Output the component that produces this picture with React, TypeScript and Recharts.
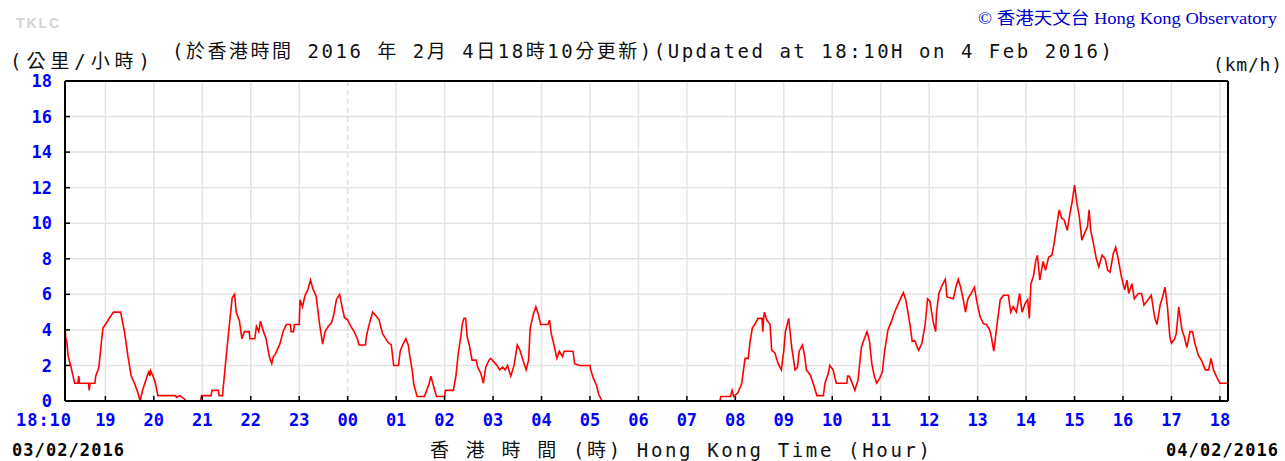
import React from 'react'
import { LineChart, Line, XAxis, YAxis, ReferenceLine } from 'recharts'

// [minutes after 18:00 on 03/02/2016, wind speed km/h]
const evening: [number, number][] = [
  [10, 4.3], [11, 3.5], [12, 3.4], [14, 2.5], [17, 2.0], [20, 1.4], [22, 1.0], [26, 1.0], [27, 1.4], [28, 1.0],
  [39, 1.0], [40, 0.6], [41, 1.0], [47, 1.0], [48, 1.4], [52, 1.9], [55, 3.3], [57, 4.1], [60, 4.3], [64, 4.6],
  [70, 5.0], [79, 5.0], [81, 4.5], [84, 3.8], [88, 2.5], [92, 1.4], [96, 1.0], [100, 0.5], [103, 0], [106, 0.6],
  [111, 1.3], [114, 1.7], [115, 1.4], [116, 1.7], [119, 1.4], [122, 1.0], [125, 0.3], [147, 0.3], [148, 0.2],
  [152, 0.3], [158, 0.1], [160, 0], [178, 0], [179, 0.3], [191, 0.3], [192, 0.6], [200, 0.6], [201, 0.3],
  [205, 0.3], [206, 0.8], [210, 2.7], [214, 4.5], [217, 5.8], [220, 6.0], [222, 5.0], [226, 4.5], [229, 3.5],
  [232, 3.9], [238, 3.9], [239, 3.5], [245, 3.5], [247, 4.2], [250, 3.9], [252, 4.5], [255, 4.0], [259, 3.5],
  [263, 2.5], [266, 2.1], [268, 2.5], [270, 2.6], [276, 3.2], [280, 3.9], [284, 4.3], [289, 4.3], [290, 3.9],
  [293, 3.9], [294, 4.3], [300, 4.3], [301, 5.7], [304, 5.3], [307, 5.9], [311, 6.3], [314, 6.8], [317, 6.3],
  [321, 5.9], [325, 4.4], [329, 3.2], [332, 3.9], [336, 4.2], [340, 4.4], [343, 4.9], [346, 5.7], [350, 6.0],
  [353, 5.3], [356, 4.7], [360, 4.55],
]

const night: [number, number][] = [
  [364, 4.2], [368, 3.9], [372, 3.5], [374, 3.15], [382, 3.15], [383, 3.6], [386, 4.2], [389, 4.7], [391, 5.0],
  [395, 4.8], [399, 4.55], [403, 3.8], [410, 3.3], [414, 3.15], [417, 2.0], [423, 2.0], [425, 2.8], [428, 3.15],
  [432, 3.5], [435, 3.15], [437, 2.5], [440, 1.7], [442, 0.9], [446, 0.25], [455, 0.25], [457, 0.5], [461, 1.0],
  [463, 1.4], [466, 0.9], [470, 0.25], [480, 0.25], [481, 0.6], [491, 0.6], [492, 0.9], [494, 1.4], [497, 2.7],
  [500, 3.6], [502, 4.35], [504, 4.65], [506, 4.65], [508, 3.6], [511, 3.05], [514, 2.3], [519, 2.3], [521, 1.9],
  [525, 1.55], [528, 1.0], [531, 1.9], [535, 2.3], [537, 2.4], [541, 2.2], [545, 2.0], [548, 1.75], [552, 1.9],
  [555, 1.75], [558, 2.0], [562, 1.4], [566, 2.0], [570, 3.15], [573, 2.9], [577, 2.3], [581, 1.75], [584, 2.3],
  [586, 4.1], [590, 4.9], [593, 5.3], [596, 4.9], [599, 4.3], [608, 4.3], [610, 4.55], [612, 3.8], [615, 3.25],
  [619, 2.4], [622, 2.8], [626, 2.5], [628, 2.8], [639, 2.8], [641, 2.1], [647, 2.0], [660, 2.0], [661, 1.75],
  [664, 1.3], [668, 0.9], [671, 0.35], [675, 0], [720, 0],
]

const morning: [number, number][] = [
  [821, 0], [822, 0.25], [834, 0.25], [836, 0.6], [838, 0.25], [843, 0.45], [848, 1.0], [852, 2.4], [856, 2.4],
  [858, 3.25], [861, 4.1], [864, 4.3], [868, 4.65], [873, 4.65], [874, 3.9], [875, 4.65], [876, 5.0], [879, 4.55],
  [883, 4.3], [885, 2.85], [889, 2.7], [893, 2.1], [897, 1.75], [900, 2.85], [902, 3.9], [906, 4.65], [908, 3.8],
  [910, 2.95], [914, 1.75], [917, 1.9], [919, 2.8], [923, 3.15], [926, 2.5], [928, 1.75], [933, 1.45], [937, 0.9],
  [941, 0.3], [949, 0.3], [951, 1.0], [955, 1.55], [957, 2.0], [961, 1.75], [965, 1.0], [978, 1.0], [979, 1.4],
  [981, 1.4], [983, 1.2], [988, 0.6], [992, 1.2], [996, 3.0], [999, 3.4], [1003, 3.9], [1006, 3.4], [1009, 2.1],
  [1012, 1.4], [1015, 1.0], [1019, 1.3],
]

const afternoon: [number, number][] = [
  [1022, 1.65], [1025, 2.85], [1029, 4.0], [1033, 4.45], [1036, 4.85], [1040, 5.3], [1044, 5.7], [1048, 6.1],
  [1051, 5.7], [1054, 4.9], [1056, 4.35], [1059, 3.35], [1062, 3.4], [1067, 2.85], [1071, 3.25], [1075, 4.3],
  [1078, 5.75], [1081, 5.6], [1085, 4.45], [1088, 3.9], [1089, 4.9], [1092, 6.05], [1096, 6.5], [1100, 6.85],
  [1102, 5.85], [1110, 5.75], [1113, 6.4], [1116, 6.85], [1119, 6.4], [1122, 5.75], [1125, 5.0], [1128, 5.75],
  [1132, 6.05], [1136, 6.4], [1139, 5.6], [1143, 4.75], [1147, 4.35], [1151, 4.3], [1155, 4.0], [1157, 3.6],
  [1160, 2.8], [1164, 4.3], [1168, 5.7], [1172, 5.95], [1178, 5.95], [1181, 5.0], [1184, 5.3], [1188, 5.0],
  [1192, 6.05], [1195, 5.0], [1199, 5.5], [1202, 5.7], [1204, 4.65], [1206, 6.6], [1209, 7.0], [1212, 7.9],
  [1214, 8.2], [1217, 6.8], [1221, 7.85], [1224, 7.35], [1228, 8.1], [1232, 8.2], [1235, 8.95], [1238, 9.9],
  [1241, 10.75], [1244, 10.3], [1247, 10.2], [1251, 9.6], [1254, 10.45], [1257, 11.2], [1260, 12.15], [1263, 11.1],
  [1266, 10.35], [1269, 9.05], [1273, 9.5], [1276, 9.8], [1278, 10.75], [1280, 9.6], [1283, 8.95], [1287, 8.0],
  [1290, 7.55], [1294, 8.2], [1298, 8.0], [1301, 7.35], [1304, 7.25], [1308, 8.3], [1311, 8.65], [1314, 8.0],
  [1318, 7.0], [1322, 6.25], [1325, 6.8], [1327, 6.05], [1331, 6.6], [1334, 5.75], [1339, 6.05], [1343, 6.05],
  [1346, 5.4], [1351, 5.7], [1355, 5.95], [1359, 4.75], [1362, 4.3], [1366, 5.4], [1369, 5.85], [1372, 6.4],
  [1375, 5.3], [1378, 3.6], [1380, 3.25], [1384, 3.5], [1386, 3.8], [1389, 5.3], [1393, 4.0], [1396, 3.6],
  [1399, 3.0], [1403, 3.9], [1406, 3.9], [1409, 3.25], [1413, 2.6], [1417, 2.3], [1422, 1.75], [1426, 1.75],
  [1429, 2.4], [1432, 1.75], [1436, 1.35], [1440, 1.0], [1450, 1.0],
]

const hourTicks = [10, 60, 120, 180, 240, 300, 360, 420, 480, 540, 600, 660, 720, 780, 840, 900, 960, 1020, 1080, 1140, 1200, 1260, 1320, 1380, 1440]
const hourLabels = ['18:10', '19', '20', '21', '22', '23', '00', '01', '02', '03', '04', '05', '06', '07', '08', '09', '10', '11', '12', '13', '14', '15', '16', '17', '18']
const speedTicks = [0, 2, 4, 6, 8, 10, 12, 14, 16, 18]
const midnight = 360

const data = [...evening, ...night, ...morning, ...afternoon].map(([t, v]) => ({ t, v }))

const MONO = '"DejaVu Sans Mono", "Liberation Mono", monospace'
const CJK = '"DejaVu Sans Mono", "Noto Sans CJK TC", monospace'
const BLUE = '#0000ff'
const GRID = '#e3e3e3'

function HourTick({ x, y, payload }: { x: number; y: number; payload: { value: number } }) {
  const i = hourTicks.indexOf(payload.value)
  const first = i === 0
  return (
    <g>
      {!first && <line x1={x} x2={x} y1={y} y2={y - 5} stroke="#000" strokeWidth={1.5} />}
      <text x={first ? x + 6 : x} y={y + 25} textAnchor={first ? 'end' : 'middle'}
        fill={BLUE} fontFamily={MONO} fontWeight={700} fontSize={17}
        textLength={first ? 55 : undefined}>
        {hourLabels[i]}
      </text>
    </g>
  )
}

function SpeedTick({ x, y, payload, side }: { x: number; y: number; payload: { value: number }; side: 'left' | 'right' }) {
  const left = side === 'left'
  return (
    <g>
      {payload.value !== 0 && payload.value !== 18 && (
        <line x1={x} x2={left ? x + 5 : x - 5} y1={y} y2={y} stroke="#000" strokeWidth={1.5} />
      )}
      <text x={left ? x - 13 : x + 7} y={y} dy="0.36em" textAnchor={left ? 'end' : 'start'}
        fill={BLUE} fontFamily={MONO} fontWeight={700} fontSize={17}>
        {payload.value}
      </text>
    </g>
  )
}

export default function App() {
  return (
    <div style={{ position: 'absolute', left: 0, top: 0, width: 1285, height: 461, background: '#fff' }}>
      <LineChart width={1285} height={461} data={data} margin={{ top: 81, right: 0, bottom: 30, left: 0 }}>
        <XAxis dataKey="t" type="number" domain={[10, 1450]} ticks={hourTicks} interval={0} allowDataOverflow
          height={30} tickSize={0} tickMargin={0} axisLine={{ stroke: '#000', strokeWidth: 2 }}
          tick={(p: any) => <HourTick {...p} />} />
        <YAxis yAxisId="left" orientation="left" width={65} domain={[0, 18]} ticks={speedTicks} interval={0}
          tickSize={0} tickMargin={0} axisLine={{ stroke: '#000', strokeWidth: 2 }}
          tick={(p: any) => <SpeedTick {...p} side="left" />} />
        <YAxis yAxisId="right" orientation="right" width={57} domain={[0, 18]} ticks={speedTicks} interval={0}
          tickSize={0} tickMargin={0} axisLine={{ stroke: '#000', strokeWidth: 2 }}
          tick={(p: any) => <SpeedTick {...p} side="right" />} />
        {speedTicks.filter(s => s > 0 && s < 18).map(s => (
          <ReferenceLine key={'h' + s} yAxisId="left" y={s} stroke={GRID} strokeWidth={1.5} />
        ))}
        {hourTicks.slice(1).map(h => (
          <ReferenceLine key={'v' + h} yAxisId="left" x={h} stroke={h === midnight ? '#dddddd' : GRID}
            strokeWidth={1.5} strokeDasharray={h === midnight ? '5 4' : undefined} />
        ))}
        <ReferenceLine yAxisId="left" y={18} stroke="#000" strokeWidth={2} />
        <Line yAxisId="left" type="linear" dataKey="v" stroke="#ff0000" strokeWidth={1.6}
          dot={false} activeDot={false} isAnimationActive={false} />
      </LineChart>
      <svg width={1285} height={461} style={{ position: 'absolute', left: 0, top: 0, pointerEvents: 'none' }}>
        <text x={16} y={28} fontFamily='"Liberation Sans", Arial, sans-serif' fontWeight={700} fontSize={14}
          fill="#d4d4d4" textLength={43}>TKLC</text>
        <text x={978} y={24} fontFamily='"Liberation Serif", "Noto Sans CJK TC", serif' fontSize={17}
          fill="#0000cc" textLength={299} lengthAdjust="spacingAndGlyphs">© 香港天文台 Hong Kong Observatory</text>
        <text x={10} y={68} fontFamily={CJK} fontSize={19} fill="#111" textLength={140}>(公里/小時)</text>
        <text x={172} y={58} fontFamily={CJK} fontSize={19} fill="#111" textLength={940}>
          (於香港時間 2016 年 2月 4日18時10分更新)(Updated at 18:10H on 4 Feb 2016)
        </text>
        <text x={1213} y={71} fontFamily={MONO} fontSize={18} fill="#111" textLength={69}>(km/h)</text>
        <text x={12} y={456} fontFamily={MONO} fontWeight={700} fontSize={17} fill="#000" textLength={112}>03/02/2016</text>
        <text x={1166} y={456} fontFamily={MONO} fontWeight={700} fontSize={17} fill="#000" textLength={112}>04/02/2016</text>
        <text x={430} y={457} fontFamily={CJK} fontSize={19} fill="#111" textLength={500}>
          香 港 時 間 (時) Hong Kong Time (Hour)
        </text>
      </svg>
    </div>
  )
}
